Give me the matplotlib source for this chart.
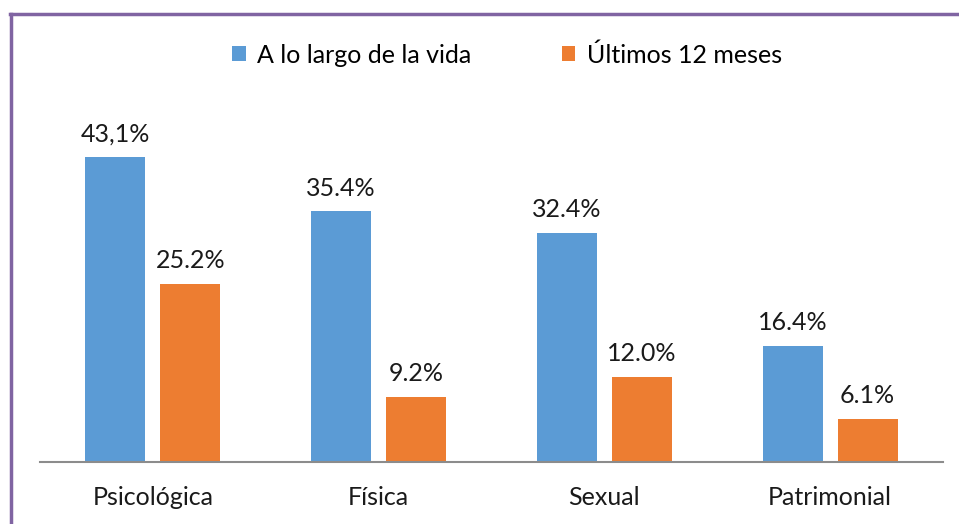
import numpy as np
import matplotlib.pyplot as plt
from matplotlib.lines import Line2D

plt.rcParams['font.family'] = ['Lato', 'DejaVu Sans']

categorias = ['Psicológica', 'Física', 'Sexual', 'Patrimonial']
vida = [43.1, 35.4, 32.4, 16.4]
ultimos = [25.2, 9.2, 12.0, 6.1]
etiquetas_vida = ['43,1%', '35.4%', '32.4%', '16.4%']
etiquetas_ultimos = ['25.2%', '9.2%', '12.0%', '6.1%']

azul = '#5B9BD5'
naranja = '#ED7D31'
fs = 18

W, H = 959, 524
fig = plt.figure(figsize=(W / 100, H / 100), dpi=100)
ax = fig.add_axes([40 / W, (H - 462) / H, 903 / W, (462 - 88) / H])

x = np.arange(len(categorias))
ancho = 0.266
off = 0.166
b1 = ax.bar(x - off, vida, ancho, color=azul, label='A lo largo de la vida')
b2 = ax.bar(x + off, ultimos, ancho, color=naranja, label='Últimos 12 meses')

for barras, etq in ((b1, etiquetas_vida), (b2, etiquetas_ultimos)):
    for b, t in zip(barras, etq):
        ax.annotate(t, (b.get_x() + b.get_width() / 2, b.get_height()),
                    xytext=(0, 8.5), textcoords='offset points',
                    ha='center', va='bottom', fontsize=fs, color='#1a1a1a')

ax.set_xlim(-0.5, len(categorias) - 0.5)
ax.set_ylim(0, (462 - 88) / 7.077)
ax.set_xticks(x)
ax.set_xticklabels(categorias, fontsize=fs, color='#1a1a1a')
ax.tick_params(axis='x', length=0, pad=17)
ax.set_yticks([])
for s in ['top', 'right', 'left']:
    ax.spines[s].set_visible(False)
ax.spines['bottom'].set_color('#8C8C8C')
ax.spines['bottom'].set_linewidth(1.5)

fig.legend(loc='center', bbox_to_anchor=(507 / W, 1 - 55 / H), ncol=2,
           frameon=False, fontsize=fs, handlelength=0.55, handleheight=0.55,
           columnspacing=3.6, handletextpad=0.45)

# marco morado
fig.add_artist(Line2D([10 / W, 1], [1 - 14 / H, 1 - 14 / H], color='#8064A2',
                      linewidth=2.5, transform=fig.transFigure))
fig.add_artist(Line2D([11 / W, 11 / W], [0, 1 - 14 / H], color='#8064A2',
                      linewidth=2.5, transform=fig.transFigure))

fig.savefig('out.png', dpi=100)
